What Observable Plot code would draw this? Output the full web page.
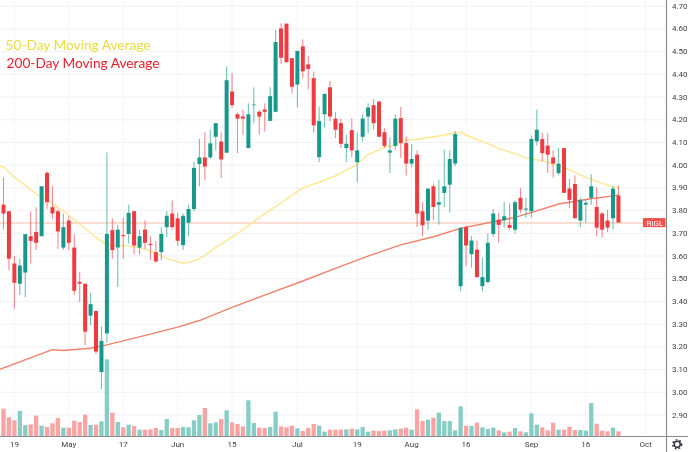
<!DOCTYPE html>
<html>
<head>
<meta charset="utf-8">
<script src="https://cdn.jsdelivr.net/npm/d3@7"></script>
<script src="https://cdn.jsdelivr.net/npm/@observablehq/plot@0.6"></script>
<style>
html,body{margin:0;padding:0;background:#fff;overflow:hidden}
#chart{width:688px;height:452px;overflow:hidden}
svg{display:block;filter:blur(0.3px)}
</style>
</head>
<body>
<div id="chart"></div>
<script>
const open = [3.824,3.795,3.565,3.476,3.525,3.685,3.704,3.685,3.964,3.813,
3.795,3.635,3.754,3.635,3.484,3.476,3.335,3.356,3.087,3.257,
3.712,3.635,3.690,3.695,3.795,3.635,3.714,3.651,3.615,3.615,
3.725,3.785,3.764,3.646,3.745,3.805,4.003,4.032,4.032,4.123,
4.102,4.053,4.322,4.222,4.212,4.073,4.262,4.233,4.243,4.193,
4.233,4.600,4.621,4.469,4.353,4.521,4.442,4.381,4.033,4.222,
4.341,4.203,4.183,4.073,4.152,4.011,4.123,4.212,4.262,4.278,
4.143,4.053,4.083,4.205,4.095,4.005,4.044,3.795,3.754,3.905,
3.824,3.876,3.912,4.005,3.465,3.726,3.606,3.626,3.465,3.483,
3.695,3.758,3.755,3.735,3.714,3.854,3.802,3.795,4.103,4.113,
4.084,4.032,3.963,4.073,3.895,3.915,3.754,3.824,3.854,3.814,
3.785,3.754,3.764,3.864];
const high = [3.944,3.795,3.597,3.586,3.695,3.794,3.813,3.905,3.971,3.905,
3.805,3.785,3.773,3.694,3.527,3.476,3.436,3.356,3.287,4.054,
3.763,3.736,3.766,3.824,3.795,3.712,3.754,3.685,3.663,3.725,
3.795,3.842,3.788,3.785,3.824,4.012,4.113,4.143,4.154,4.183,
4.143,4.432,4.403,4.231,4.241,4.271,4.341,4.241,4.271,4.341,
4.593,4.622,4.622,4.471,4.501,4.552,4.480,4.410,4.256,4.312,
4.370,4.233,4.203,4.132,4.203,4.142,4.222,4.271,4.288,4.278,
4.161,4.120,4.222,4.254,4.125,4.091,4.063,3.835,3.895,3.917,
3.934,4.066,4.063,4.147,3.726,3.732,3.685,3.666,3.590,3.697,
3.805,3.788,3.835,3.829,3.843,3.897,3.854,4.128,4.242,4.142,
4.139,4.063,4.073,4.073,3.937,3.952,3.854,3.846,3.959,3.902,
3.791,3.802,3.905,3.908];
const low = [3.714,3.536,3.366,3.426,3.417,3.565,3.624,3.685,3.805,3.761,
3.630,3.624,3.624,3.426,3.395,3.205,3.293,3.167,3.011,3.216,
3.586,3.461,3.586,3.653,3.605,3.605,3.630,3.580,3.568,3.580,
3.682,3.714,3.644,3.624,3.685,3.795,3.905,3.934,4.026,4.063,
3.941,4.051,4.249,4.051,4.132,4.073,4.183,4.133,4.146,4.192,
4.233,4.444,4.451,4.315,4.252,4.381,4.332,4.142,4.011,4.164,
4.192,4.118,4.073,4.011,4.033,3.922,4.102,4.139,4.154,4.121,
4.073,3.963,4.066,4.029,3.952,3.990,3.726,3.685,3.714,3.755,
3.736,3.814,3.788,3.993,3.443,3.553,3.546,3.502,3.443,3.477,
3.682,3.656,3.722,3.714,3.697,3.788,3.766,3.766,4.084,4.015,
3.963,3.944,3.952,3.876,3.810,3.764,3.726,3.744,3.824,3.685,
3.681,3.703,3.714,3.745];
const close = [3.785,3.586,3.480,3.556,3.694,3.665,3.656,3.905,3.835,3.785,
3.706,3.725,3.656,3.445,3.476,3.265,3.386,3.177,3.224,3.695,
3.624,3.714,3.685,3.788,3.644,3.685,3.656,3.646,3.574,3.695,
3.775,3.725,3.665,3.775,3.805,3.986,4.032,3.992,4.094,4.183,
4.023,4.372,4.262,4.203,4.203,4.222,4.265,4.212,4.233,4.302,
4.540,4.471,4.451,4.343,4.501,4.411,4.422,4.173,4.192,4.312,
4.212,4.154,4.092,4.092,4.063,4.063,4.203,4.252,4.183,4.123,
4.083,4.063,4.203,4.095,4.005,4.025,3.785,3.733,3.895,3.814,
3.835,3.905,4.025,4.135,3.722,3.644,3.666,3.505,3.505,3.656,
3.785,3.735,3.773,3.722,3.835,3.802,3.807,4.113,4.154,4.051,
4.044,4.005,4.005,3.876,3.845,3.764,3.845,3.832,3.905,3.723,
3.714,3.723,3.895,3.745];
const volume = [82,56,47,75,33,35,61,31,27,38,
54,25,25,46,42,64,33,34,44,230,
70,42,26,34,30,19,19,20,24,18,
51,24,24,27,26,47,63,84,38,41,
51,77,41,36,29,107,39,25,24,27,
73,29,26,31,23,15,24,36,31,13,
19,19,19,20,22,20,27,13,16,15,
16,17,20,22,25,19,80,45,49,55,
70,45,45,17,89,31,30,40,26,21,
25,17,11,13,24,14,11,68,34,26,
17,40,19,19,28,18,18,16,99,37,
16,14,25,14];

const ma50Day = [-1,0,2,4,6,8,11,14,17,19,22,25,28,30,33,35,37,39,41,43,47,49,52,55,58,61,65,67,70,72,74,76,79,81,83,84,86,89,91,94,96,99,104,107,110,112,113];
const ma50Val = [3.999,3.993,3.946,3.912,3.873,3.846,3.798,3.741,3.682,3.650,3.646,3.638,3.612,3.590,3.568,3.578,3.602,3.638,3.668,3.699,3.770,3.802,3.850,3.900,3.925,3.953,4.004,4.047,4.080,4.088,4.110,4.114,4.125,4.132,4.144,4.144,4.122,4.095,4.073,4.051,4.032,4.020,3.981,3.946,3.920,3.905,3.900];

const ma200Day = [-1,9,11,16,19,27,32,36,42,48,55,61,67,73,79,84,90,94,98,102,107,112,113];
const ma200Val = [3.098,3.188,3.184,3.194,3.209,3.256,3.287,3.316,3.374,3.428,3.490,3.546,3.600,3.649,3.685,3.722,3.751,3.770,3.799,3.829,3.849,3.865,3.868];

const priceTicks = d3.range(2.9, 4.71, 0.1).map(v => +v.toFixed(1));
const dateTicks = [2,12,22,32,42,54,65,75,85,97,107,118];
const dateLabels = ["19","May","17","Jun","15","Jul","19","Aug","16","Sep","16","Oct"];
const lastPrice = 3.745;

const up = "#16998a", down = "#ef3a40";
const upVol = "#85cdc5", downVol = "#f9a3a3";
const font = "Roboto, 'Liberation Sans', sans-serif";

const candles = open.map((o, i) => ({i, o, h: high[i], l: low[i], c: close[i], v: volume[i], rising: close[i] > o}));
const ma50 = ma50Day.map((d, i) => ({d, v: ma50Val[i]}));
const ma200 = ma200Day.map((d, i) => ({d, v: ma200Val[i]}));

const xMin = -0.551, xMax = 121.83, yMin = 2.8054, yMax = 4.7252;
const xEdge = 125.9, yEdge = 2.735;        // scale values past the frame, for the axis rules and corner
const volK = 0.001468;                     // volume pane: volume units to price units

const chart = Plot.plot({
  width: 688, height: 452,
  marginLeft: 0, marginRight: 22, marginTop: 0, marginBottom: 16,
  style: {background: "#fff", fontFamily: font},
  x: {domain: [xMin, xMax], axis: null},
  y: {domain: [yMin, yMax], axis: null},
  marks: [
    Plot.ruleY(priceTicks, {stroke: "#f0f1f5", strokeWidth: 1}),
    Plot.ruleX(dateTicks, {stroke: "#f3f4f8", strokeWidth: 1}),
    Plot.ruleX(candles, {x: "i", y1: yMin, y2: d => yMin + d.v * volK,
      stroke: d => d.rising ? upVol : downVol, strokeWidth: 4.3}),
    Plot.ruleY([lastPrice], {stroke: "#fbd2c6", strokeWidth: 1.5}),
    Plot.line(ma50, {x: "d", y: "v", stroke: "#fbe890", strokeWidth: 1.4}),
    Plot.line(ma200, {x: "d", y: "v", stroke: "#ee8268", strokeWidth: 1.4}),
    Plot.ruleX(candles, {x: "i", y1: "l", y2: "h",
      stroke: d => d.rising ? up : down, strokeOpacity: 0.6, strokeWidth: 1.1}),
    Plot.ruleX(candles, {x: "i", y1: "o", y2: "c",
      stroke: d => d.rising ? up : down, strokeWidth: 4}),
    Plot.ruleX([xMax], {y1: yEdge, y2: yMax, stroke: "#8a8c94", strokeWidth: 1.2}),
    Plot.ruleY([yMin], {x1: xMin, x2: xEdge, stroke: "#8a8c94", strokeWidth: 1.2}),
    Plot.text(priceTicks, {x: xMax, y: d => d, text: d => d.toFixed(2), dx: 5.5, textAnchor: "start",
      fontSize: 8, fill: "#3e414a"}),
    Plot.text(dateTicks, {x: d => d, y: yMin, text: (d, i) => dateLabels[i], dy: 8,
      fontSize: 8, fill: "#3e414a"}),
    Plot.rect([lastPrice], {x1: 117.6, x2: xMax - 0.1, y1: d => d - 0.02, y2: d => d + 0.02, fill: "#ee5350"}),
    Plot.text([lastPrice], {x: 119.7, y: d => d, text: () => "RIGL", fill: "#fff", fontSize: 8}),
    Plot.dot([0], {x: 123.8, y: 2.771, r: 3, stroke: "#33353d", strokeWidth: 1.5, fill: "none"}),
    Plot.dot([0], {x: 123.8, y: 2.771, r: 4.5, stroke: "#33353d", strokeWidth: 1.4, fill: "none", strokeDasharray: "1.8 2"}),
    Plot.text(["50-Day Moving Average"], {frameAnchor: "top-left", dx: 5, dy: 45, fontSize: 13.7,
      fontFamily: "Lato, sans-serif", fill: "#e8dc40", textAnchor: "start", lineAnchor: "middle"}),
    Plot.text(["200-Day Moving Average"], {frameAnchor: "top-left", dx: 6, dy: 63, fontSize: 13.7,
      fontFamily: "Lato, sans-serif", fill: "#e4202e", textAnchor: "start", lineAnchor: "middle"})
  ]
});
document.getElementById("chart").appendChild(chart);
</script>
</body>
</html>
